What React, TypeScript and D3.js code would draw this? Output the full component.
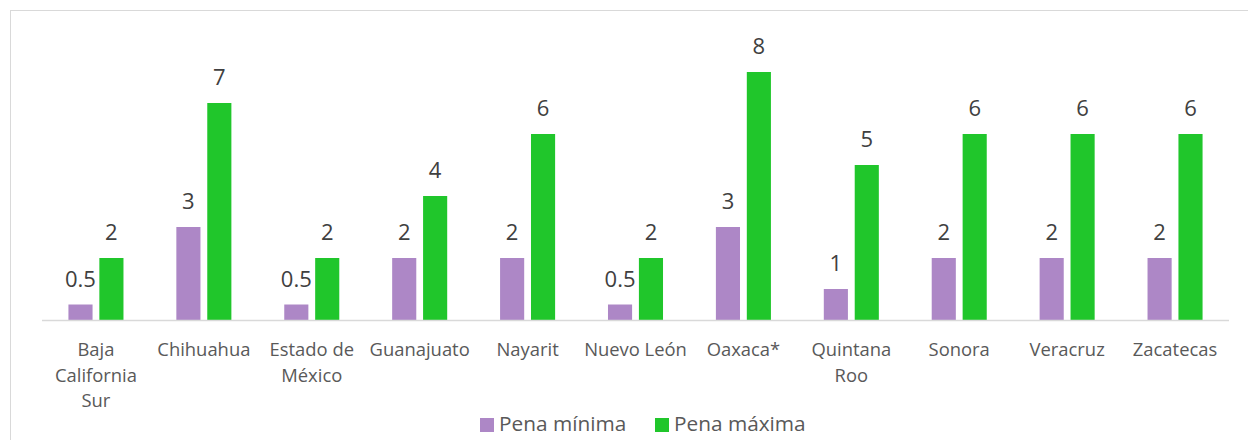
import React, { useEffect, useRef } from 'react';
import * as d3 from 'd3';

const categories = [
  'Baja California Sur',
  'Chihuahua',
  'Estado de México',
  'Guanajuato',
  'Nayarit',
  'Nuevo León',
  'Oaxaca*',
  'Quintana Roo',
  'Sonora',
  'Veracruz',
  'Zacatecas',
];
const penaMinima = [0.5, 3, 0.5, 2, 2, 0.5, 3, 1, 2, 2, 2];
const penaMaxima = [2, 7, 2, 4, 6, 2, 8, 5, 6, 6, 6];
const seriesNames = ['Pena mínima', 'Pena máxima'];
const seriesColors = ['#ad87c6', '#20c62b'];

const FONT = '"Open Sans", "Noto Sans", sans-serif';

const App = () => {
  const svgRef = useRef<SVGSVGElement>(null);

  useEffect(() => {
    const width = 1248;
    const height = 440;
    const svg = d3.select(svgRef.current);
    svg.selectAll('*').remove();
    svg.attr('width', width).attr('height', height);

    // chart frame (cropped on right and bottom)
    svg.append('rect')
      .attr('x', 10.5).attr('y', 10.5)
      .attr('width', width + 20).attr('height', height + 20)
      .attr('fill', '#fff')
      .attr('stroke', '#d9d9d9');

    const left = 42;
    const right = 1229;
    const baseY = 320;

    const x0 = d3.scaleBand<string>()
      .domain(categories)
      .range([left, right])
      .paddingInner(0.49)
      .paddingOuter(0.245);

    const x1 = d3.scaleBand<string>()
      .domain(seriesNames)
      .range([0, x0.bandwidth()])
      .paddingInner(0.22);

    const y = d3.scaleLinear().domain([0, 9]).range([baseY, baseY - 9 * 31]);

    const series = [penaMinima, penaMaxima];

    const g = svg.append('g');
    series.forEach((vals, si) => {
      const name = seriesNames[si];
      g.selectAll(`.bar-${si}`)
        .data(vals)
        .enter()
        .append('rect')
        .attr('x', (d, i) => x0(categories[i])! + x1(name)!)
        .attr('y', (d) => y(d))
        .attr('width', x1.bandwidth())
        .attr('height', (d) => baseY - y(d))
        .attr('fill', seriesColors[si]);

      g.selectAll(`.lbl-${si}`)
        .data(vals)
        .enter()
        .append('text')
        .attr('x', (d, i) => x0(categories[i])! + x1(name)! + x1.bandwidth() / 2)
        .attr('y', (d) => y(d) - 18)
        .attr('text-anchor', 'middle')
        .attr('font-family', FONT)
        .attr('font-size', 22)
        .attr('fill', '#404040')
        .text((d) => String(d));
    });

    // axis line
    svg.append('line')
      .attr('x1', left).attr('x2', right)
      .attr('y1', baseY + 0.5).attr('y2', baseY + 0.5)
      .attr('stroke', '#d9d9d9')
      .attr('stroke-width', 1.5);

    // category labels with wrapping
    const step = x0.step();
    categories.forEach((cat) => {
      const cx = x0(cat)! + x0.bandwidth() / 2;
      const text = svg.append('text')
        .attr('x', cx)
        .attr('y', 356)
        .attr('text-anchor', 'middle')
        .attr('font-family', FONT)
        .attr('font-size', 18.4)
        .attr('fill', '#595959');
      const words = cat.split(' ');
      let line: string[] = [];
      let tspan = text.append('tspan').attr('x', cx).attr('dy', 0);
      words.forEach((w) => {
        line.push(w);
        tspan.text(line.join(' '));
        if ((tspan.node() as SVGTSpanElement).getComputedTextLength() > step - 2 && line.length > 1) {
          line.pop();
          tspan.text(line.join(' '));
          line = [w];
          tspan = text.append('tspan').attr('x', cx).attr('dy', 25.5).text(w);
        }
      });
    });

    // legend
    const legend = svg.append('g').attr('font-family', FONT).attr('font-size', 20.8).attr('fill', '#595959');
    const legendX = [480, 655];
    seriesNames.forEach((name, i) => {
      legend.append('rect')
        .attr('x', legendX[i]).attr('y', 418)
        .attr('width', 14).attr('height', 14)
        .attr('fill', seriesColors[i]);
      legend.append('text')
        .attr('x', legendX[i] + 19).attr('y', 431)
        .text(name);
    });
  }, []);

  return (
    <div style={{ position: 'absolute', left: 0, top: 0 }}>
      <svg ref={svgRef} style={{ display: 'block' }}></svg>
    </div>
  );
};

export default App;
